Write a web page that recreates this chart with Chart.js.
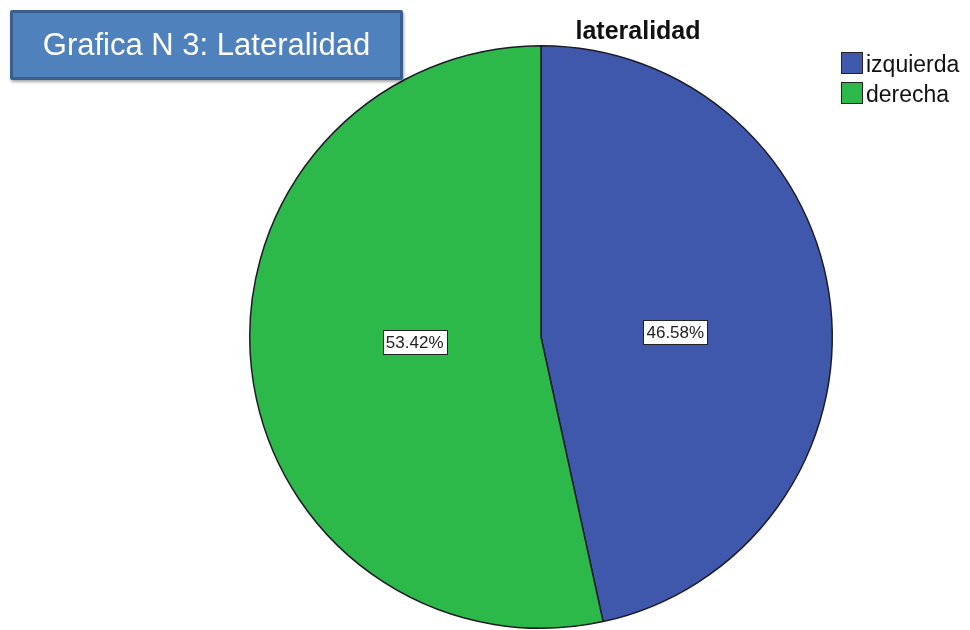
<!DOCTYPE html>
<html>
<head>
<meta charset="utf-8">
<script src="https://cdn.jsdelivr.net/npm/chart.js@4/dist/chart.umd.min.js"></script>
<style>
  html, body { margin: 0; padding: 0; background: #fff; overflow: hidden; }
  #wrap { position: absolute; left: 0; top: 0; width: 970px; height: 634px; }
  .badge {
    position: absolute; left: 10px; top: 10px; width: 387px; height: 64px;
    background: #4f81bd; border: 3px solid #3a5f8e; border-radius: 2px;
    box-shadow: 1px 2px 3px rgba(0,0,0,0.35);
    color: #fff; font: 31px "Liberation Sans", Arial, sans-serif;
    line-height: 64px; text-align: center;
  }
</style>
</head>
<body>
<div id="wrap"><canvas id="pieChart"></canvas></div>
<div class="badge">Grafica N 3: Lateralidad</div>
<script>
const categories = ["izquierda", "derecha"];
const percents = [46.58, 53.42];
const sliceColors = ["#3f58ac", "#2db84a"];
const chartTitle = "lateralidad";

// percent boxes inside each slice
const sliceLabels = {
  id: "sliceLabels",
  afterDatasetsDraw(chart) {
    const ctx = chart.ctx;
    const arcs = chart.getDatasetMeta(0).data;
    ctx.save();
    ctx.font = '17px "Liberation Sans", Arial, sans-serif';
    ctx.textAlign = "center";
    ctx.textBaseline = "middle";
    arcs.forEach((arc, i) => {
      const p = arc.getProps(["x", "y", "startAngle", "endAngle", "outerRadius"], true);
      const mid = (p.startAngle + p.endAngle) / 2;
      const d = p.outerRadius * 0.45;
      const x = p.x + Math.cos(mid) * d + 4;
      const y = p.y + Math.sin(mid) * d * 0.35;
      const txt = percents[i].toFixed(2) + "%";
      const w = Math.round(ctx.measureText(txt).width + 6);
      const h = 24;
      const bx = Math.round(x - w / 2), by = Math.round(y - h / 2);
      ctx.fillStyle = "#fff";
      ctx.fillRect(bx, by, w, h);
      ctx.strokeStyle = "#222";
      ctx.lineWidth = 1;
      ctx.strokeRect(bx + 0.5, by + 0.5, w, h);
      ctx.fillStyle = "#222";
      ctx.fillText(txt, x, y + 1);
    });
    ctx.restore();
  }
};

// title and legend in the top-right corner
const titleLegend = {
  id: "titleLegend",
  afterDraw(chart) {
    const ctx = chart.ctx;
    ctx.save();
    ctx.fillStyle = "#111";
    ctx.font = 'bold 25px "Liberation Sans", Arial, sans-serif';
    ctx.textAlign = "center";
    ctx.textBaseline = "alphabetic";
    ctx.fillText(chartTitle, 638, 39);

    ctx.font = '23px "Liberation Sans", Arial, sans-serif';
    ctx.textAlign = "left";
    categories.forEach((name, i) => {
      const y = 52 + i * 30;
      ctx.fillStyle = sliceColors[i];
      ctx.fillRect(841, y, 21, 21);
      ctx.strokeStyle = "#222";
      ctx.lineWidth = 1;
      ctx.strokeRect(841.5, y + 0.5, 21, 21);
      ctx.fillStyle = "#111";
      ctx.fillText(name, 866, y + 20);
    });
    ctx.restore();
  }
};

new Chart("pieChart", {
  type: "pie",
  data: {
    labels: categories,
    datasets: [{
      data: percents,
      backgroundColor: sliceColors,
      borderColor: "#1c1c28",
      borderWidth: 1.5
    }]
  },
  options: {
    responsive: true,
    maintainAspectRatio: false,
    animation: false,
    layout: { padding: { left: 249, right: 137, top: 45, bottom: 5 } },
    plugins: {
      legend: { display: false },
      title: { display: false },
      tooltip: { enabled: false }
    }
  },
  plugins: [sliceLabels, titleLegend]
});
</script>
</body>
</html>
